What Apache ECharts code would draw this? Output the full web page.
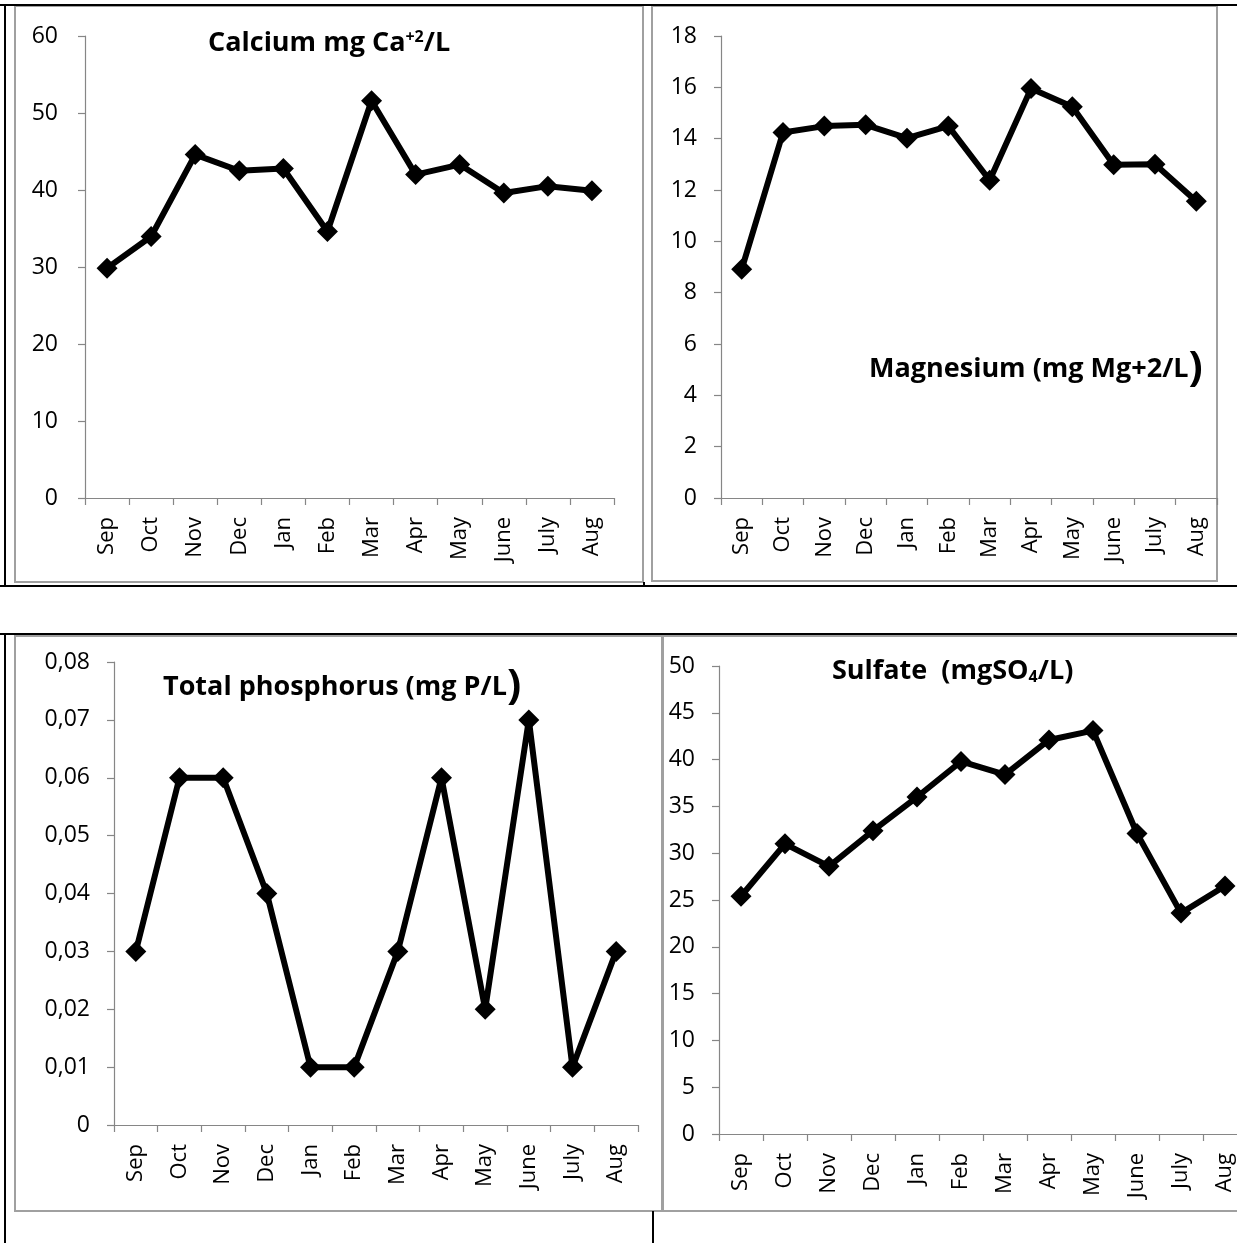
<!DOCTYPE html>
<html>
<head>
<meta charset="utf-8">
<script src="https://cdn.jsdelivr.net/npm/echarts@6/dist/echarts.min.js"></script>
<style>
html,body{margin:0;padding:0;background:#fff;overflow:hidden;width:1237px;height:1243px;}
#c{width:1262px;height:1243px;}
</style>
</head>
<body>
<div id="c"></div>
<script>
const months = ['Sep','Oct','Nov','Dec','Jan','Feb','Mar','Apr','May','June','July','Aug'];
const calcium = [29.85, 33.96, 44.6, 42.5, 42.8, 34.6, 51.6, 42.0, 43.3, 39.6, 40.5, 39.9];
const magnesium = [8.91, 14.24, 14.49, 14.54, 14.02, 14.49, 12.38, 15.95, 15.24, 12.98, 13.0, 11.56];
const phosphorus = [0.03, 0.06, 0.06, 0.04, 0.01, 0.01, 0.03, 0.06, 0.02, 0.07, 0.01, 0.03];
const sulfate = [25.4, 31.0, 28.6, 32.4, 36.0, 39.8, 38.4, 42.1, 43.1, 32.1, 23.6, 26.5];
const yTicks = {
  calcium: {min: 0, max: 60, interval: 10},
  magnesium: {min: 0, max: 18, interval: 2},
  phosphorus: {min: 0, max: 0.08, interval: 0.01},
  sulfate: {min: 0, max: 50, interval: 5}
};

const FONT = 'Open Sans';
const AXC = '#868686';
const FRAME = '#a0a0a0';

function xAx(gi) {
  return {
    type: 'category', gridIndex: gi, data: months, boundaryGap: true,
    axisLine: {lineStyle: {color: AXC, width: 1.2}},
    axisTick: {show: true, length: 7, interval: 0, lineStyle: {color: AXC, width: 1.2}},
    axisLabel: {rotate: 90, fontSize: 22, color: '#000', fontFamily: FONT, margin: 19, interval: 0},
    splitLine: {show: false}
  };
}
function yAx(gi, t, margin, fmt) {
  return {
    type: 'value', gridIndex: gi, min: t.min, max: t.max, interval: t.interval,
    axisLine: {show: true, lineStyle: {color: AXC, width: 1.2}},
    axisTick: {show: true, length: 7, lineStyle: {color: AXC, width: 1.2}},
    axisLabel: {fontSize: 23, color: '#000', fontFamily: FONT, margin: margin, formatter: fmt},
    splitLine: {show: false}
  };
}
function ser(gi, data) {
  return {
    type: 'line', xAxisIndex: gi, yAxisIndex: gi, data: data,
    symbol: 'diamond', symbolSize: 21,
    lineStyle: {color: '#000', width: 6},
    itemStyle: {color: '#000'},
    animation: false
  };
}
const titleRich = {
  b: {fontSize: 27, fontWeight: 'bold', fontFamily: FONT, color: '#000'},
  sup: {fontSize: 16, fontWeight: 'bold', fontFamily: FONT, color: '#000', verticalAlign: 'top', padding: [0, 0, 12, 0]},
  sub: {fontSize: 16, fontWeight: 'bold', fontFamily: FONT, color: '#000', verticalAlign: 'bottom', padding: [12, 0, 0, 0]},
  paren: {fontSize: 42, fontWeight: 'bold', fontFamily: FONT, color: '#000'}
};
function ttl(text, left, top) {
  return {text: text, left: left, top: top, padding: 0, textStyle: {rich: titleRich}};
}
function line(x1, y1, x2, y2, color, w) {
  return {type: 'line', shape: {x1: x1, y1: y1, x2: x2, y2: y2}, style: {stroke: color, lineWidth: w}, silent: true, z: 0};
}
function rect(x, y, w, h) {
  return {type: 'rect', shape: {x: x, y: y, width: w, height: h}, style: {fill: 'none', stroke: FRAME, lineWidth: 2}, silent: true, z: 0};
}

const option = {
  backgroundColor: '#fff',
  animation: false,
  grid: [
    {left: 85, top: 36, width: 529, height: 462},
    {left: 721, top: 36, width: 496, height: 462},
    {left: 114, top: 662, width: 524, height: 463},
    {left: 719, top: 666, width: 528, height: 468}
  ],
  xAxis: [xAx(0), xAx(1), xAx(2), xAx(3)],
  yAxis: [
    yAx(0, yTicks.calcium, 27),
    yAx(1, yTicks.magnesium, 24),
    yAx(2, yTicks.phosphorus, 24, function (v) { return v === 0 ? '0' : v.toFixed(2).replace('.', ','); }),
    yAx(3, yTicks.sulfate, 24)
  ],
  title: [
    ttl('{b|Calcium mg Ca}{sup|+2}{b|/L}', 208, 29),
    ttl('{b|Magnesium (mg Mg+2/L}{paren|)}', 869, 348),
    ttl('{b|Total phosphorus (mg P/L}{paren|)}', 163, 666),
    ttl('{b|Sulfate  (mgSO}{sub|4}{b|/L)}', 832, 657)
  ],
  series: [ser(0, calcium), ser(1, magnesium), ser(2, phosphorus), ser(3, sulfate)],
  graphic: [
    rect(15, 6, 628, 576),
    rect(652, 6, 565, 575),
    rect(15, 636, 647, 575),
    rect(663, 636, 620, 575),
    line(0, 5, 1262, 5, '#000', 2),
    line(5, 5, 5, 586, '#000', 2),
    line(0, 586, 1262, 586, '#000', 2),
    line(644, 582, 644, 586, '#000', 2),
    line(0, 634, 1262, 634, '#000', 2),
    line(5, 634, 5, 1243, '#000', 2),
    line(653, 1211, 653, 1243, '#000', 2)
  ]
};
const chart = echarts.init(document.getElementById('c'), null, {renderer: 'canvas'});
chart.setOption(option);
</script>
</body>
</html>
